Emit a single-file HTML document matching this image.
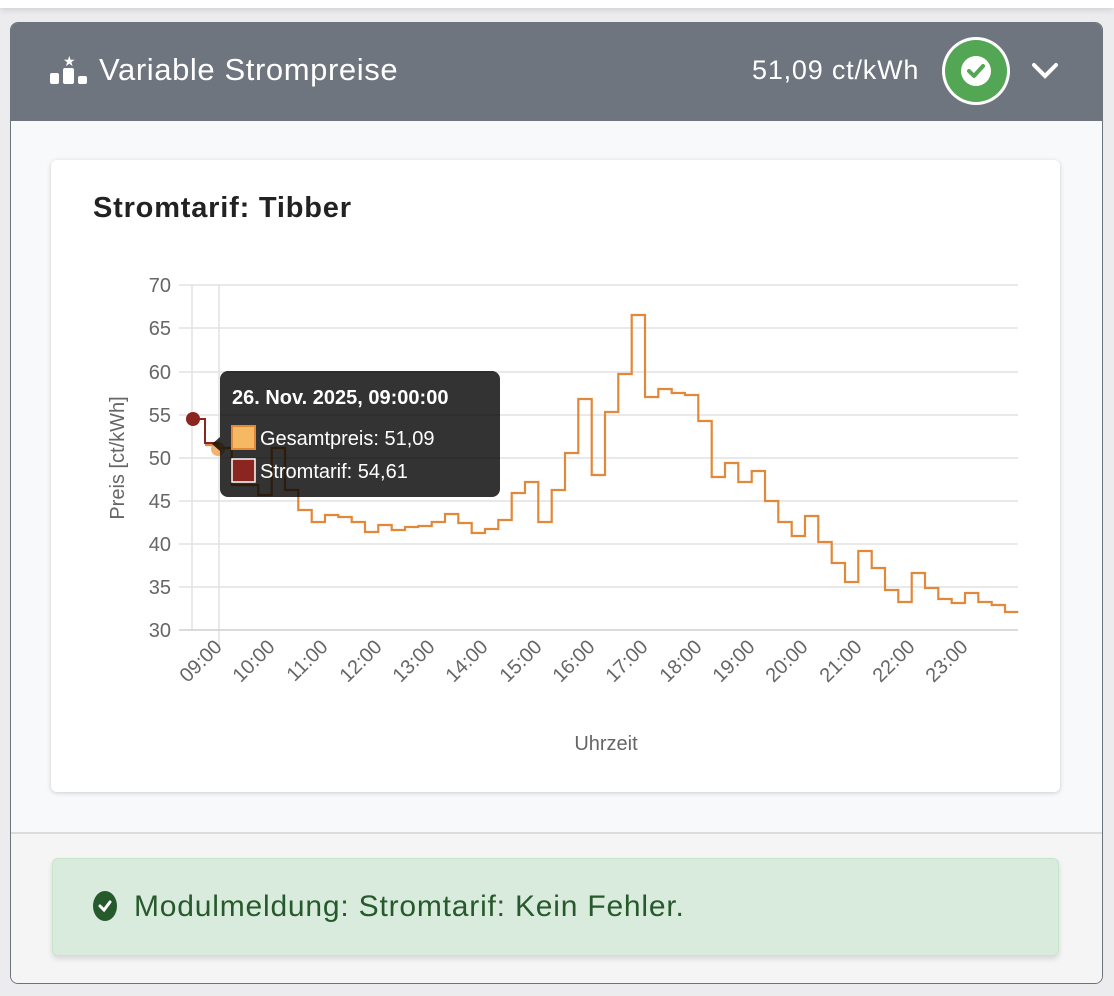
<!DOCTYPE html>
<html><head><meta charset="utf-8"><style>
body{margin:0;width:1114px;height:996px;background:#ececee;position:relative;overflow:hidden;font-family:"Liberation Sans",sans-serif}
.abs{position:absolute}
</style></head><body>
<div class="abs" style="left:0;top:-20px;width:1114px;height:28px;background:#fff;box-shadow:0 2px 6px rgba(0,0,0,.12)"></div>
<div class="abs" style="left:10px;top:22px;width:1091px;height:960px;background:#f8f9fb;border:1px solid #6c737c;border-radius:8px;overflow:hidden">
  <div class="abs" style="left:0;top:0;width:1091px;height:98px;background:#6f757e"></div>
  <div class="abs" style="left:0;top:809px;width:1091px;height:160px;background:#f5f5f5;border-top:2px solid #dcdcdc"></div>
</div>
<svg class="abs" style="left:50px;top:53px" width="42" height="34">
<rect x="0" y="20" width="9" height="11" rx="2" fill="#fff"/><rect x="13" y="15" width="11" height="16" rx="2" fill="#fff"/><rect x="28" y="23" width="9" height="8" rx="2" fill="#fff"/>
<text x="13" y="13" fill="#fff" font-size="14">★</text></svg>
<div class="abs" style="left:99px;top:52px;color:#fff;font-size:31px;letter-spacing:0.6px">Variable Strompreise</div>
<div class="abs" style="left:752px;top:55px;color:#fff;font-size:27px;letter-spacing:0.8px">51,09 ct/kWh</div>
<svg class="abs" style="left:940px;top:35px" width="130" height="75">
<circle cx="36" cy="36" r="34" fill="#fff"/><circle cx="36" cy="36" r="31" fill="#53a653"/><circle cx="36" cy="36" r="15" fill="#fff"/>
<path d="M29 36 L34 41 L43 31" stroke="#53a653" stroke-width="4" fill="none" stroke-linecap="round" stroke-linejoin="round"/>
<path d="M94 30 L105 41 L116 30" stroke="#fff" stroke-width="4" fill="none" stroke-linecap="round"/></svg>
<div class="abs" style="left:51px;top:160px;width:1009px;height:632px;background:#fff;border-radius:6px;box-shadow:0 1px 5px rgba(0,0,0,.18)"></div>
<div class="abs" style="left:93px;top:192px;font-size:29px;font-weight:bold;color:#222;letter-spacing:0.8px">Stromtarif: Tibber</div>
<svg class="abs" style="left:0;top:0" width="1114" height="996" font-family="Liberation Sans, sans-serif">
<g stroke="#e2e2e2" stroke-width="1.5">
<line x1="179" y1="285" x2="1018" y2="285"/><line x1="179" y1="328" x2="1018" y2="328"/><line x1="179" y1="372" x2="1018" y2="372"/><line x1="179" y1="415" x2="1018" y2="415"/><line x1="179" y1="458" x2="1018" y2="458"/><line x1="179" y1="501" x2="1018" y2="501"/><line x1="179" y1="544" x2="1018" y2="544"/><line x1="179" y1="587" x2="1018" y2="587"/>
<line x1="192" y1="285" x2="192" y2="630"/><line x1="219" y1="285" x2="219" y2="646"/>
</g>
<line x1="179" y1="630" x2="1018" y2="630" stroke="#cfcfcf" stroke-width="1.5"/>
<g font-size="20" fill="#666" text-anchor="end">
<text x="171" y="292">70</text><text x="171" y="335">65</text><text x="171" y="379">60</text><text x="171" y="422">55</text><text x="171" y="465">50</text><text x="171" y="508">45</text><text x="171" y="551">40</text><text x="171" y="594">35</text><text x="171" y="637">30</text>
</g>
<g font-size="20" fill="#666" text-anchor="end">
<text transform="translate(223,648) rotate(-45)">09:00</text>
<text transform="translate(276,648) rotate(-45)">10:00</text>
<text transform="translate(329,648) rotate(-45)">11:00</text>
<text transform="translate(383,648) rotate(-45)">12:00</text>
<text transform="translate(436,648) rotate(-45)">13:00</text>
<text transform="translate(489,648) rotate(-45)">14:00</text>
<text transform="translate(543,648) rotate(-45)">15:00</text>
<text transform="translate(596,648) rotate(-45)">16:00</text>
<text transform="translate(649,648) rotate(-45)">17:00</text>
<text transform="translate(703,648) rotate(-45)">18:00</text>
<text transform="translate(756,648) rotate(-45)">19:00</text>
<text transform="translate(809,648) rotate(-45)">20:00</text>
<text transform="translate(863,648) rotate(-45)">21:00</text>
<text transform="translate(916,648) rotate(-45)">22:00</text>
<text transform="translate(969,648) rotate(-45)">23:00</text>
</g>
<text x="606" y="750" font-size="20" fill="#666" text-anchor="middle">Uhrzeit</text>
<text transform="translate(124,458) rotate(-90)" font-size="20" fill="#666" text-anchor="middle">Preis [ct/kWh]</text>
<path d="M205 445 H218.3 V448 H231.7 V485 H245 V485 H258.3 V495 H271.7 V448 H285 V490 H298.3 V510 H311.7 V522 H325 V515 H338.3 V517 H351.7 V522 H365 V532 H378.3 V525 H391.7 V530 H405 V527 H418.3 V526 H431.7 V522 H445 V514 H458.3 V523 H471.7 V533 H485 V529 H498.3 V520 H511.7 V493 H525 V482 H538.3 V522 H551.7 V490 H565 V453 H578.3 V399 H591.7 V475 H605 V412 H618.3 V374 H631.7 V315 H645 V397 H658.3 V389 H671.7 V393 H685 V395 H698.3 V421 H711.7 V477 H725 V463 H738.3 V482 H751.7 V471 H765 V501 H778.3 V522 H791.7 V536 H805 V516 H818.3 V542 H831.7 V563 H845 V582 H858.3 V551 H871.7 V568 H885 V590 H898.3 V602 H911.7 V573 H925 V588 H938.3 V599 H951.7 V603 H965 V593 H978.3 V602 H991.7 V605 H1005 V612 H1018.3" fill="none" stroke="#e2883a" stroke-width="2.2"/>
<path d="M192 419 H205 V443 H218" fill="none" stroke="#8b2520" stroke-width="2"/>
<circle cx="218" cy="449" r="7" fill="#eea14c" opacity="0.8"/>
<circle cx="193" cy="419" r="7" fill="#8b2520"/>
<path d="M220 437 L212 444 L220 451 Z" fill="rgba(0,0,0,0.8)"/>
<rect x="220" y="371" width="280" height="126" rx="8" fill="rgba(0,0,0,0.8)"/>
<text x="232" y="404" font-size="20" font-weight="bold" fill="#fff">26. Nov. 2025, 09:00:00</text>
<rect x="232" y="426" width="23" height="23" fill="#f5b963" stroke="#e2883a" stroke-width="2"/>
<text x="260" y="445" font-size="20" fill="#fff">Gesamtpreis: 51,09</text>
<rect x="232" y="459" width="23" height="23" fill="#8b2520" stroke="#fff" stroke-width="1.5"/>
<text x="260" y="478" font-size="20" fill="#fff">Stromtarif: 54,61</text>
</svg>
<div class="abs" style="left:52px;top:858px;width:1005px;height:96px;background:#d9ebdc;border:1px solid #c6e6cc;border-radius:6px;box-shadow:0 3px 6px rgba(0,0,0,.12)"></div>
<svg class="abs" style="left:92px;top:890px" width="28" height="34"><ellipse cx="13" cy="16" rx="12" ry="15" fill="#265a2c"/><path d="M8 16 L12 20 L18 12" stroke="#fff" stroke-width="3" fill="none" stroke-linecap="round"/></svg>
<div class="abs" style="left:134px;top:890px;font-size:30px;color:#265a2c;letter-spacing:0.8px">Modulmeldung: Stromtarif: Kein Fehler.</div>
</body></html>
